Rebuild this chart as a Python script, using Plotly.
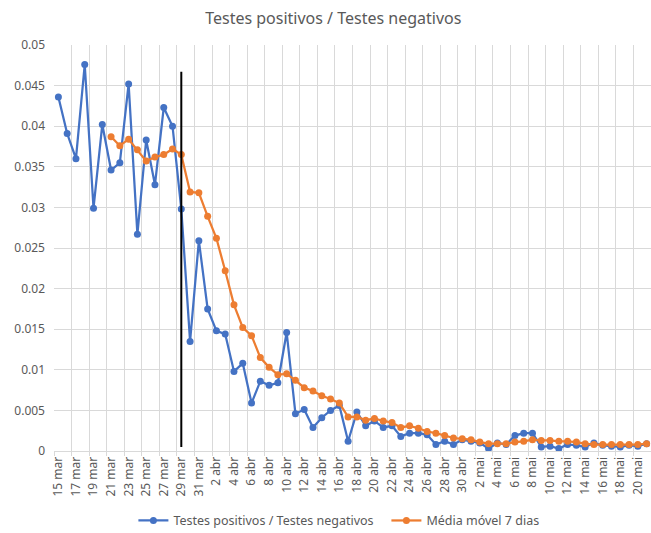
import plotly.graph_objects as go

mar_days = list(range(15, 32))
abr_days = list(range(1, 31))
mai_days = list(range(1, 22))
categories = ([f"{d} mar" for d in mar_days] + [f"{d} abr" for d in abr_days]
              + [f"{d} mai" for d in mai_days])

ratio = [0.0436, 0.0391, 0.0360, 0.0476, 0.0299, 0.0402, 0.0346, 0.0355, 0.0452, 0.0267,
         0.0383, 0.0328, 0.0423, 0.0400, 0.0298, 0.0135, 0.0259, 0.0175, 0.0148, 0.0144,
         0.0098, 0.0108, 0.0059, 0.0086, 0.0081, 0.0084, 0.0146, 0.0046, 0.0051, 0.0029,
         0.0041, 0.0050, 0.0056, 0.0012, 0.0048, 0.0031, 0.0037, 0.0029, 0.0031, 0.0018,
         0.0022, 0.0022, 0.0020, 0.0008, 0.0012, 0.0008, 0.0014, 0.0012, 0.0010, 0.0003,
         0.0010, 0.0008, 0.0019, 0.0022, 0.0022, 0.0005, 0.0006, 0.0003, 0.0008, 0.0007,
         0.0005, 0.0010, 0.0007, 0.0006, 0.0005, 0.0007, 0.0006, 0.0009]

moving_avg = [None, None, None, None, None, None,
              0.0387, 0.0376, 0.0384, 0.0371, 0.0357, 0.0362, 0.0365, 0.0372, 0.0365,
              0.0319, 0.0318, 0.0289, 0.0262, 0.0222, 0.0180, 0.0152, 0.0142, 0.0115,
              0.0103, 0.0094, 0.0095, 0.0087, 0.0078, 0.0074, 0.0068, 0.0064, 0.0059,
              0.0042, 0.0042, 0.0038, 0.0040, 0.0037, 0.0035, 0.0029, 0.0031, 0.0028,
              0.0024, 0.0022, 0.0019, 0.0016, 0.0015, 0.0014, 0.0011, 0.0009, 0.0009,
              0.0009, 0.0011, 0.0012, 0.0014, 0.0013, 0.0013, 0.0012, 0.0012, 0.0011,
              0.0009, 0.0008, 0.0008, 0.0008, 0.0008, 0.0008, 0.0008, 0.0009]

marker_day = "29 mar"
marker_y = [0.0005, 0.0467]

grey = "#595959"
fig = go.Figure()
fig.add_trace(go.Scatter(x=categories, y=ratio, mode="lines+markers",
                         name="Testes positivos / Testes negativos",
                         line=dict(color="#4472C4", width=2.25),
                         marker=dict(color="#4472C4", size=7)))
fig.add_trace(go.Scatter(x=categories, y=moving_avg, mode="lines+markers",
                         name="Média móvel 7 dias",
                         line=dict(color="#ED7D31", width=2.25),
                         marker=dict(color="#ED7D31", size=7)))

xi = categories.index(marker_day)
fig.add_shape(type="line", xref="x", yref="y", x0=xi, x1=xi,
              y0=marker_y[0], y1=marker_y[1], line=dict(color="black", width=2))

fig.update_layout(
    width=651, height=533,
    margin=dict(l=54, r=0, t=45, b=82, autoexpand=False),
    paper_bgcolor="white", plot_bgcolor="white",
    font=dict(family="Noto Sans", color=grey, size=12),
    title=dict(text="Testes positivos / Testes negativos", x=0.512, xanchor="center",
               y=0.966, yanchor="middle", font=dict(size=16, color=grey)),
    showlegend=True,
    legend=dict(orientation="h", x=0.133, xanchor="left", y=-0.172, yanchor="middle",
                entrywidth=208, entrywidthmode="pixels",
                font=dict(size=12.5, color=grey)),
    xaxis=dict(type="category", range=[-0.5, len(categories) - 0.5], automargin=False,
               tickmode="linear", tick0=0, dtick=2, tickangle=-90,
               tickson="boundaries", showgrid=True, gridcolor="#d9d9d9",
               showline=True, linecolor="#d9d9d9", ticks="outside", tickcolor="#d9d9d9",
               ticklen=4, tickfont=dict(size=12, color=grey)),
    yaxis=dict(range=[0, 0.05], dtick=0.005, tick0=0, showgrid=True, automargin=False,
               gridcolor="#d9d9d9", zeroline=False, showline=False,
               ticklabelstandoff=8, tickfont=dict(size=12, color=grey)),
)

fig.write_html("out.html", config={"displayModeBar": False},
               post_script="document.body.style.margin='0';document.body.style.overflow='hidden';")
